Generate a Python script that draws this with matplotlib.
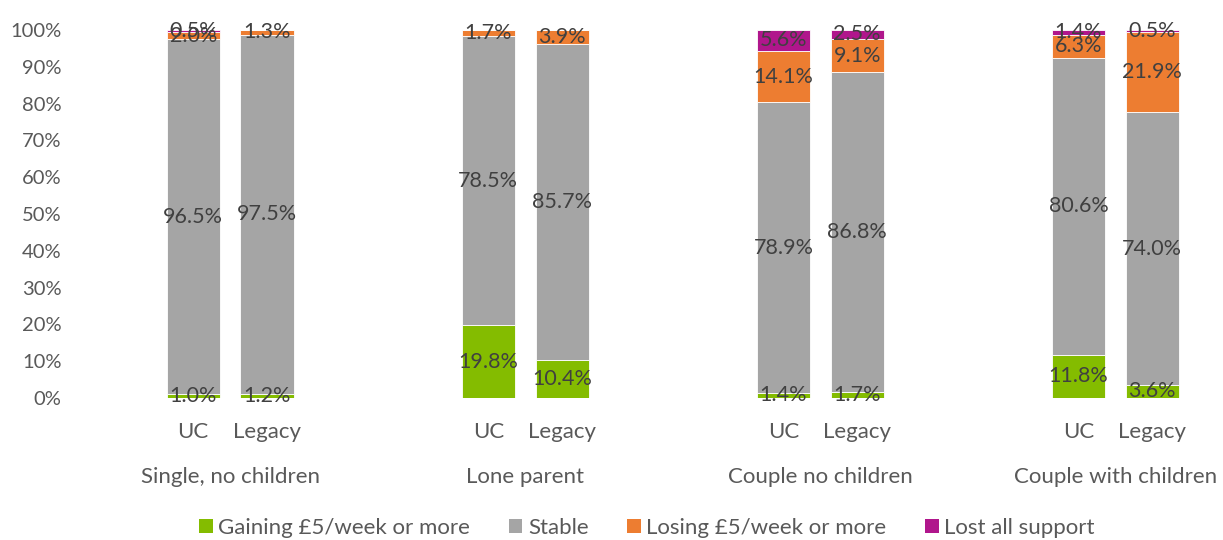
import matplotlib
matplotlib.use("Agg")
import matplotlib.pyplot as plt
from matplotlib.patches import Patch

plt.rcParams['font.family'] = ['Lato', 'DejaVu Sans']

groups = ["Single, no children", "Lone parent", "Couple no children", "Couple with children"]
systems = ["UC", "Legacy"]
series = ["Gaining £5/week or more", "Stable", "Losing £5/week or more", "Lost all support"]
colors = ["#84BC00", "#A5A5A5", "#ED7D31", "#B0168C"]

gaining = [1.0, 1.2, 19.8, 10.4, 1.4, 1.7, 11.8, 3.6]
stable = [96.5, 97.5, 78.5, 85.7, 78.9, 86.8, 80.6, 74.0]
losing = [2.0, 1.3, 1.7, 3.9, 14.1, 9.1, 6.3, 21.9]
lost = [0.5, 0.0, 0.0, 0.0, 5.6, 2.5, 1.4, 0.5]

data = [gaining, stable, losing, lost]

fig = plt.figure(figsize=(12.23, 5.40), dpi=100)
ax = fig.add_axes([160/1223, 142/540, (1215-160)/1223, 368/540])

xpos = []
for g in range(len(groups)):
    xpos += [4*g, 4*g + 1]

bottom = [0.0]*len(xpos)
txtc = "#404040"
for s, vals in enumerate(data):
    ax.bar(xpos, vals, width=0.72, bottom=bottom, color=colors[s], edgecolor="white", linewidth=0.6)
    for i, v in enumerate(vals):
        if v > 0:
            ax.text(xpos[i], bottom[i] + v/2, f"{v:.1f}%", ha="center", va="center",
                    fontsize=15.5, color=txtc)
    bottom = [b + v for b, v in zip(bottom, vals)]

ax.set_ylim(0, 100)
ax.set_xlim(-0.45, 13.85)
ax.set_yticks(range(0, 101, 10))
ax.set_yticklabels([f"{t}%" for t in range(0, 101, 10)])
ax.tick_params(axis="y", length=0, labelsize=14.5, labelcolor="#595959", pad=71)
ax.set_xticks([])
for sp in ax.spines.values():
    sp.set_visible(False)

for i, x in enumerate(xpos):
    ax.text(x, -6.5, systems[i % 2], ha="center", va="top", fontsize=16, color="#595959",
            clip_on=False)
for g, name in enumerate(groups):
    ax.text(4*g + 0.5, -18.8, name, ha="center", va="top", fontsize=16, color="#595959",
            clip_on=False)

handles = [Patch(facecolor=c, edgecolor="none") for c in colors]
fig.legend(handles, series, loc="center", bbox_to_anchor=(647/1223, 1 - 528/540), ncol=4,
           frameon=False, fontsize=16, handlelength=0.6, handleheight=0.6,
           handletextpad=0.25, columnspacing=1.75, labelcolor="#595959")

fig.savefig("out.png", dpi=100)
